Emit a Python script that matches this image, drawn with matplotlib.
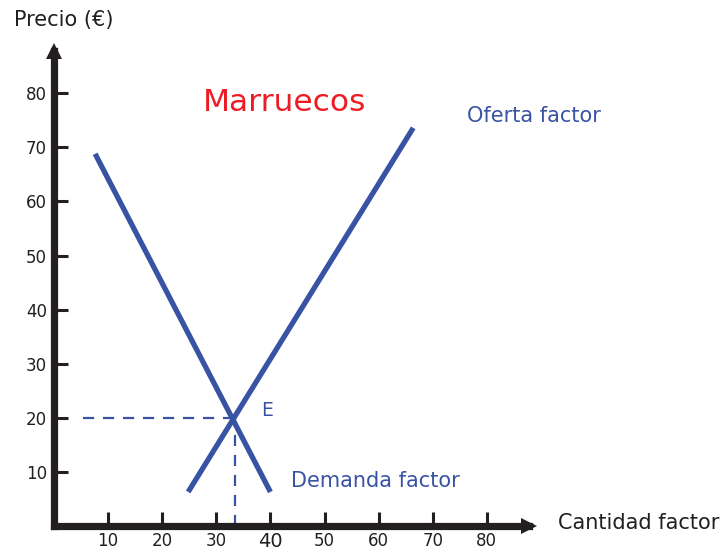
import matplotlib
matplotlib.use("Agg")
import matplotlib.pyplot as plt

# data
demanda_x = [7.6, 40.0]
demanda_y = [68.8, 6.3]
oferta_x = [24.8, 66.4]
oferta_y = [6.3, 73.6]
eq_x, eq_y = 33.4, 20.0
xticks = [10, 20, 30, 40, 50, 60, 70, 80]
yticks = [10, 20, 30, 40, 50, 60, 70, 80]

azul = "#3953a4"
negro = "#231f20"

fig = plt.figure(figsize=(7.22, 5.52), dpi=100)
ax = fig.add_axes([0.0748, 0.0471, 0.6624, 0.8663])
ax.set_xlim(0, 88.4)
ax.set_ylim(0, 88.4)

for s in ["top", "right"]:
    ax.spines[s].set_visible(False)
for s in ["left", "bottom"]:
    ax.spines[s].set_linewidth(5.2)
    ax.spines[s].set_color(negro)
    ax.spines[s].set_capstyle("projecting")
    ax.spines[s].set_bounds(0, 87.8)

# arrow heads at the ends of the axes
ax.plot(87.8, 0, ">", color=negro, ms=12, mew=0, clip_on=False)
ax.plot(0, 87.8, "^", color=negro, ms=12, mew=0, clip_on=False)

ax.set_xticks(xticks)
ax.set_yticks(yticks)
ax.set_xticklabels([str(t) for t in xticks])
ax.set_yticklabels([str(t) for t in yticks])
ax.tick_params(direction="in", length=10, width=2.2, color=negro, labelcolor=negro,
               labelsize=12)
ax.tick_params(axis="x", pad=4)
ax.tick_params(axis="y", pad=5)
for lbl in ax.get_xticklabels():
    if lbl.get_text() == "40":
        lbl.set_fontsize(14)

# curves
ax.plot(demanda_x, demanda_y, color=azul, lw=3.8, solid_capstyle="butt")
ax.plot(oferta_x, oferta_y, color=azul, lw=3.8, solid_capstyle="butt")

# equilibrium guides
ax.plot([5.4, eq_x], [eq_y, eq_y], color=azul, lw=1.6, ls=(0, (5, 4)))
ax.plot([eq_x, eq_x], [0, eq_y], color=azul, lw=1.6, ls=(0, (5, 4)))

ax.text(38.3, 21.4, "E", color=azul, fontsize=13.5, va="center", ha="left")
ax.text(43.8, 8.3, "Demanda factor", color=azul, fontsize=15, va="center", ha="left")
ax.text(76.3, 75.8, "Oferta factor", color=azul, fontsize=15, va="center", ha="left", clip_on=False)
ax.text(27.5, 78.3, "Marruecos", color="#ed1c24", fontsize=22.5, va="center", ha="left")
ax.text(-7.4, 93.6, "Precio (€)", color=negro, fontsize=15, va="center", ha="left", clip_on=False)
ax.text(93.2, 0.6, "Cantidad factor", color=negro, fontsize=15, va="center", ha="left", clip_on=False)

fig.savefig("out.png", dpi=100)
